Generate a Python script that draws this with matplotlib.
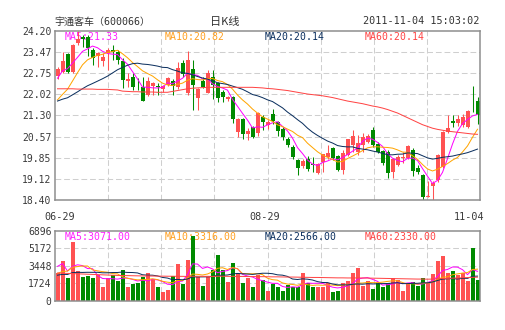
import numpy as np
import pandas as pd
import matplotlib
matplotlib.use('Agg')
import matplotlib.pyplot as plt

W, H, DPI = 505, 330, 100

# ---------------- data ----------------
opens = [22.65, 22.77, 23.40, 22.77, 23.77, 23.99, 23.99, 23.54, 23.35, 23.17,
         23.42, 23.54, 23.48, 23.17, 22.49, 22.60, 22.25, 22.28, 21.99, 22.32,
         22.31, 22.19, 22.34, 22.49, 22.28, 23.08, 22.05, 22.89, 21.88, 22.49,
         22.08, 22.63, 22.42, 22.11, 21.85, 21.92, 20.74, 21.16, 20.66, 20.89,
         20.68, 21.23, 20.97, 21.35, 21.08, 20.82, 20.50, 20.23, 19.77, 19.56,
         19.80, 19.65, 19.31, 19.71, 19.86, 20.17, 19.92, 19.43, 19.94, 20.28,
         20.06, 20.28, 20.40, 20.80, 20.32, 20.09, 20.06, 19.37, 19.60, 19.83,
         19.83, 20.11, 19.51, 19.26, 18.51, 18.88, 19.09, 19.54, 20.74, 21.12,
         21.03, 20.97, 20.89, 21.50, 21.80]
closes = [22.88, 23.17, 22.77, 23.71, 23.90, 23.91, 23.60, 23.25, 23.42, 23.29,
          23.54, 23.48, 23.20, 22.51, 22.53, 22.28, 22.22, 21.80, 22.49, 22.42,
          22.26, 22.32, 22.59, 22.31, 22.91, 22.72, 23.20, 22.34, 22.19, 22.28,
          22.76, 22.34, 21.88, 21.92, 21.92, 21.17, 21.17, 20.66, 20.77, 20.57,
          21.37, 21.08, 21.08, 21.12, 20.76, 20.57, 20.30, 19.86, 19.48, 19.75,
          19.46, 19.60, 19.63, 19.97, 20.02, 19.83, 19.43, 20.02, 20.48, 20.60,
          20.36, 20.57, 20.60, 20.28, 20.06, 19.68, 19.34, 19.80, 19.88, 19.86,
          20.25, 19.40, 19.37, 18.51, 18.55, 18.99, 19.94, 20.74, 20.86, 21.05,
          21.17, 21.26, 21.45, 21.47, 21.31]
highs = [22.95, 23.48, 23.42, 23.75, 24.20, 24.05, 24.05, 23.60, 23.48, 23.42,
         23.60, 23.71, 23.54, 23.25, 22.74, 22.74, 22.57, 22.60, 22.60, 22.45,
         22.42, 22.35, 22.62, 22.55, 23.14, 23.20, 23.50, 23.20, 22.22, 22.63,
         22.85, 22.85, 22.45, 22.17, 21.96, 21.95, 21.20, 21.20, 20.85, 20.95,
         21.43, 21.30, 21.15, 21.52, 21.12, 20.90, 20.55, 20.28, 19.80, 19.80,
         19.90, 19.86, 19.68, 19.98, 20.28, 20.20, 19.95, 20.10, 20.50, 20.80,
         20.63, 20.68, 20.65, 20.89, 20.40, 20.12, 20.10, 19.85, 19.95, 20.06,
         20.30, 20.17, 19.60, 19.30, 19.06, 19.06, 19.97, 20.78, 21.31, 21.31,
         21.31, 21.35, 21.50, 22.30, 21.92]
lows = [22.53, 22.74, 22.74, 22.74, 23.70, 23.65, 23.35, 23.02, 22.97, 23.00,
        22.85, 23.20, 23.05, 22.23, 22.26, 22.17, 22.17, 21.80, 21.95, 21.99,
        21.99, 22.10, 22.30, 21.99, 22.20, 22.60, 22.00, 21.48, 21.48, 22.22,
        22.05, 21.85, 21.77, 21.77, 21.80, 21.03, 20.55, 20.50, 20.46, 20.51,
        20.60, 20.80, 20.82, 21.00, 20.60, 20.45, 20.20, 19.80, 19.26, 19.50,
        19.40, 19.37, 19.28, 19.37, 19.80, 19.78, 19.40, 19.30, 19.90, 20.06,
        19.94, 20.06, 20.35, 20.23, 20.00, 19.60, 19.17, 19.14, 19.55, 19.66,
        19.80, 19.22, 19.30, 18.34, 18.50, 18.40, 19.00, 19.50, 20.70, 20.89,
        20.95, 20.90, 20.85, 21.40, 21.00]
volumes = [2774, 3928, 2279, 5808, 2971, 2378, 2477, 2213, 2543, 1388,
           2213, 2543, 1982, 3037, 1388, 1619, 1718, 2378, 2708, 2114,
           1388, 894, 1059, 2477, 3631, 1652, 4027, 6434, 2378, 1487,
           2378, 3037, 4555, 3037, 1883, 3697, 2708, 1718, 2213, 1388,
           2543, 2048, 993, 1619, 1388, 993, 1553, 1322, 1388, 2774,
           1718, 1388, 1388, 1322, 1718, 894, 993, 1718, 1982, 2708,
           3268, 1487, 1982, 1125, 1718, 1388, 1718, 2279, 2048, 993,
           1718, 1883, 1487, 2213, 1718, 2609, 3961, 4456, 2708, 2939,
           2543, 2708, 1982, 5247, 2048]
# sessions before the visible window (only feed the moving averages)
prior_closes = [21.90, 21.80, 21.70, 21.85, 21.75, 21.60, 21.70, 21.80, 21.65, 21.75,
                21.30, 21.00, 20.90, 21.05, 21.20, 21.90, 22.40, 22.75, 22.92]
prior_volumes = [2300, 2500, 2100, 2400, 2600, 2200, 2300, 2500, 2400, 2200,
                 2000, 1900, 2100, 2200, 1800, 2500, 6000, 3500, 2200]
# MA60 lines as drawn in the picture
ma60_price = [22.21, 22.21, 22.21, 22.21, 22.20, 22.20, 22.20, 22.20, 22.19, 22.19,
              22.19, 22.18, 22.17, 22.13, 22.12, 22.11, 22.11, 22.10, 22.10, 22.10,
              22.09, 22.09, 22.09, 22.12, 22.15, 22.18, 22.21, 22.23, 22.24, 22.25,
              22.26, 22.26, 22.26, 22.26, 22.26, 22.26, 22.26, 22.26, 22.26, 22.26,
              22.25, 22.24, 22.22, 22.21, 22.19, 22.17, 22.15, 22.12, 22.09, 22.06,
              22.03, 22.01, 21.99, 21.97, 21.94, 21.91, 21.87, 21.83, 21.79, 21.76,
              21.73, 21.70, 21.66, 21.62, 21.59, 21.55, 21.50, 21.44, 21.38, 21.30,
              21.22, 21.14, 21.06, 20.98, 20.92, 20.86, 20.82, 20.79, 20.76, 20.74,
              20.72, 20.70, 20.68, 20.66, 20.65]
ma60_volume = [2740, 2720, 2700, 2680, 2660, 2640, 2620, 2600, 2580, 2560,
               2540, 2520, 2500, 2490, 2480, 2470, 2460, 2450, 2440, 2440,
               2430, 2430, 2420, 2420, 2410, 2410, 2400, 2420, 2420, 2410,
               2410, 2400, 2420, 2420, 2410, 2410, 2400, 2400, 2390, 2390,
               2380, 2380, 2370, 2360, 2360, 2350, 2340, 2340, 2330, 2320,
               2310, 2300, 2300, 2290, 2280, 2270, 2260, 2260, 2250, 2250,
               2250, 2250, 2240, 2230, 2220, 2210, 2200, 2190, 2180, 2170,
               2160, 2150, 2140, 2140, 2130, 2140, 2160, 2190, 2210, 2230,
               2250, 2270, 2290, 2310, 2330]

price_ticks = [18.40, 19.125, 19.85, 20.575, 21.30, 22.025, 22.75, 23.475, 24.20]
price_tick_labels = ['18.40', '19.12', '19.85', '20.57', '21.30', '22.02', '22.75', '23.47', '24.20']
vol_ticks = [0, 1724, 3448, 5172, 6896]
vol_tick_labels = ['0', '1724', '3448', '5172', '6896']
date_labels = ['06-29', '08-29', '11-04']
stock_title = '宇通客车（600066）'
chart_title = '日K线'
timestamp = '2011-11-04 15:03:02'
price_ma_labels = ['MA5:21.33', 'MA10:20.82', 'MA20:20.14', 'MA60:20.14']
vol_ma_labels = ['MA5:3071.00', 'MA10:3316.00', 'MA20:2566.00', 'MA60:2330.00']

# ---------------- style ----------------
RED, GREEN = '#ff5252', '#008a00'
MA_COLORS = ['#ff00ff', '#ffa500', '#0b2f5e', '#ff4444']
TXT_COLORS = ['#ff22ff', '#ffa020', '#0b2f5e', '#ff4444']
GRID = '#cfcfcf'
BORDER = '#8e8e8e'
MONO = ['DejaVu Sans Mono', 'Noto Sans CJK SC']
CJK = ['Noto Sans CJK SC', 'DejaVu Sans']

n = len(closes)
x = np.arange(n)
o = np.array(opens); c = np.array(closes)
hi = np.array(highs); lo = np.array(lows)
vol = np.array(volumes, dtype=float)
cols = [RED if cc >= oo else GREEN for oo, cc in zip(o, c)]

all_c = pd.Series(prior_closes + closes)
all_v = pd.Series(prior_volumes + volumes, dtype=float)
k0 = len(prior_closes)
ma_p = [all_c.rolling(w).mean().to_numpy()[k0:] for w in (5, 10, 20)] + [np.array(ma60_price)]
ma_v = [all_v.rolling(w).mean().to_numpy()[k0:] for w in (5, 10, 20)] + [np.array(ma60_volume)]

fig = plt.figure(figsize=(W / DPI, H / DPI), dpi=DPI)
fig.patch.set_facecolor('white')

def fx(px):
    return px / W

def fy(py):
    return 1 - py / H

L, R = 55, 480
ax = fig.add_axes([fx(L), fy(200), fx(R) - fx(L), fy(30.7) - fy(200)])
axv = fig.add_axes([fx(L), fy(300.7), fx(R) - fx(L), fy(231) - fy(300.7)])

dash = (0, (5.5, 2.8))
for a in (ax, axv):
    a.set_xlim(-0.5, n - 0.5)
    for s in a.spines.values():
        s.set_color(BORDER)
        s.set_linewidth(1.1)
    for k in range(1, 8):
        a.axvline(-0.5 + k * n / 8, color=GRID, lw=0.75, ls=dash, zorder=0)
    a.tick_params(length=0, labelsize=7.0, labelcolor='#3a3a3a', pad=2.5)

# price panel
ax.set_ylim(18.40, 24.20)
ax.set_yticks(price_ticks)
ax.set_yticklabels(price_tick_labels, family=MONO)
for t in price_ticks[1:-1]:
    ax.axhline(t, color=GRID, lw=0.75, ls=dash, zorder=0)
ax.vlines(x, lo, hi, colors=cols, lw=0.75, zorder=2)
body_b = np.minimum(o, c)
body_h = np.maximum(np.abs(c - o), 0.03)
ax.bar(x, body_h, bottom=body_b, width=0.8, color=cols, lw=0, zorder=2.1, antialiased=False)
for m, col in zip(ma_p, MA_COLORS):
    ax.plot(x, m, color=col, lw=0.72, zorder=3)

ax.set_xticks([0.4, 41.4, 82.3])
ax.set_xticklabels(date_labels, family=MONO, fontsize=7.3)
ax.tick_params(axis='x', pad=9)

# volume panel
axv.set_ylim(0, 6896)
axv.set_yticks(vol_ticks)
axv.set_yticklabels(vol_tick_labels, family=MONO)
axv.set_xticks([])
for t in vol_ticks[1:-1]:
    axv.axhline(t, color=GRID, lw=0.75, ls=dash, zorder=0)
axv.bar(x, vol, width=0.8, color=cols, lw=0, zorder=2, antialiased=False)
for m, col in zip(ma_v, MA_COLORS):
    axv.plot(x, m, color=col, lw=0.72, zorder=3)

# MA legends (under the bars, like the reference)
for i, (lab, col) in enumerate(zip(price_ma_labels, TXT_COLORS)):
    ax.text(fx(64.5 + 100 * i), fy(36.8), lab, transform=fig.transFigure, color=col,
            fontsize=7.1, family=MONO, ha='left', va='center', zorder=1)
for i, (lab, col) in enumerate(zip(vol_ma_labels, TXT_COLORS)):
    axv.text(fx(64.5 + 100 * i), fy(236.5), lab, transform=fig.transFigure, color=col,
             fontsize=7.1, family=MONO, ha='left', va='center', zorder=1)

# header
fig.text(fx(54), fy(21.5), stock_title, family=MONO, fontsize=7.2, color='#333333',
         ha='left', va='center')
fig.text(fx(225), fy(21.5), chart_title, family=CJK, fontsize=8.0, color='#333333',
         ha='center', va='center')
fig.text(fx(479.5), fy(21.5), timestamp, family=MONO, fontsize=7.3, color='#333333',
         ha='right', va='center')

fig.savefig('out.png', dpi=DPI, facecolor='white')
